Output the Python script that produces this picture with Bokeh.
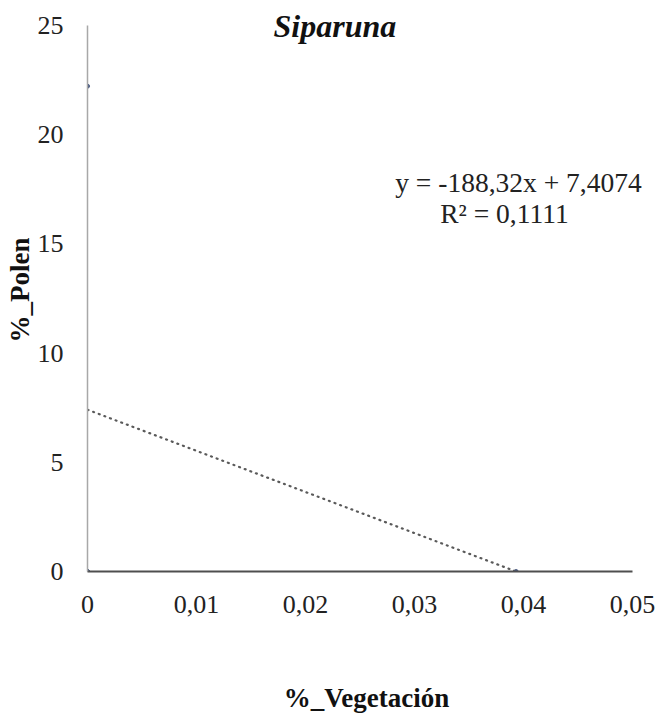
import numpy as np
from bokeh.plotting import figure
from bokeh.models import Range1d, CustomJSTickFormatter, FixedTicker, Label
from bokeh.embed import file_html
from bokeh.resources import INLINE

# Data
veg = [0.0, 0.0, 0.0, 0.03933]
polen = [22.222, 0.0, 0.0, 0.0]
x_ticks = [0, 0.01, 0.02, 0.03, 0.04, 0.05]
y_ticks = [0, 5, 10, 15, 20, 25]
title_text = "Siparuna"
eq_text = "y = -188,32x + 7,4074"
r2_text = "R² = 0,1111"
x_label = "%_Vegetación"
y_label = "%_Polen"

FONT = "Liberation Serif"
W, H = 656, 715

# frame extends a little beyond the axes (room for title / equation), axes are bounded
p = figure(width=W, height=H, output_backend="svg", toolbar_location=None,
           x_range=Range1d(0, 0.0512), y_range=Range1d(0, 25.777),
           min_border_left=87, min_border_right=W - 645, min_border_top=8,
           min_border_bottom=H - 572)
p.outline_line_color = None
p.xgrid.grid_line_color = None
p.ygrid.grid_line_color = None

# linear trend line from least squares on the data, clipped at y = 0
slope, intercept = np.polyfit(veg, polen, 1)
x_zero = -intercept / slope
tx = np.linspace(0, x_zero, 50)
p.line(tx, slope * tx + intercept, line_color="#5a5a5a", line_width=2.2,
       line_dash="1 5", line_cap="round")

p.scatter(veg, polen, size=4, color="#4a5a80")

# axes
for ax in (p.xaxis[0], p.yaxis[0]):
    ax.major_tick_line_color = None
    ax.minor_tick_line_color = None
    ax.major_tick_out = 0
    ax.major_tick_in = 0
    ax.minor_tick_out = 0
    ax.minor_tick_in = 0
    ax.major_label_text_font = FONT
    ax.major_label_text_font_size = "26px"
    ax.major_label_text_color = "#222222"
    ax.major_label_standoff = 24
    ax.axis_label_text_font = FONT
    ax.axis_label_text_font_style = "bold"
    ax.axis_label_text_font_size = "27px"
    ax.axis_label_text_color = "#111111"

p.xaxis.ticker = FixedTicker(ticks=x_ticks)
p.yaxis.ticker = FixedTicker(ticks=y_ticks)
p.xaxis.bounds = (x_ticks[0], x_ticks[-1])
p.yaxis.bounds = (y_ticks[0], y_ticks[-1])
p.xaxis.formatter = CustomJSTickFormatter(code="""
    if (Math.abs(tick) < 1e-12) return "0";
    return tick.toFixed(2).replace('.', ',');
""")
p.yaxis.formatter = CustomJSTickFormatter(code="return tick.toFixed(0);")

p.xaxis.axis_line_color = "#4f4f4f"
p.xaxis.axis_line_width = 2
p.yaxis.axis_line_color = "#a8a8a8"
p.yaxis.axis_line_width = 1.5

p.xaxis.axis_label = x_label
p.yaxis.axis_label = y_label
p.xaxis.axis_label_standoff = 67
p.yaxis.axis_label_standoff = 0

p.add_layout(Label(x=0.0227, y=24.96, text=title_text, text_font=FONT,
                   text_font_style="bold italic", text_font_size="32px",
                   text_align="center", text_baseline="alphabetic", text_color="#111111"))
p.add_layout(Label(x=0.03954, y=17.83, text=eq_text, text_font=FONT,
                   text_font_size="27.5px", text_align="center", text_baseline="alphabetic",
                   text_color="#222222"))
p.add_layout(Label(x=0.03826, y=16.41, text=r2_text, text_font=FONT,
                   text_font_size="27.5px", text_align="center", text_baseline="alphabetic",
                   text_color="#222222"))

open("out.html", "w").write(file_html(p, INLINE))
